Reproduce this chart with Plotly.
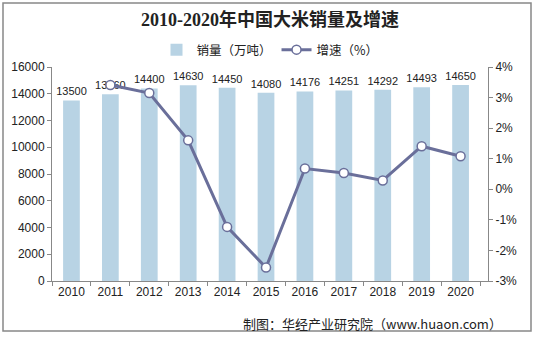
import plotly.graph_objects as go

years = ["2010", "2011", "2012", "2013", "2014", "2015", "2016", "2017", "2018", "2019", "2020"]
sales = [13500, 13960, 14400, 14630, 14450, 14080, 14176, 14251, 14292, 14493, 14650]
growth_years = ["2011", "2012", "2013", "2014", "2015", "2016", "2017", "2018", "2019", "2020"]
growth = [3.41, 3.15, 1.60, -1.23, -2.56, 0.68, 0.53, 0.29, 1.41, 1.08]
y2_ticks = [-3, -2, -1, 0, 1, 2, 3, 4]
y2_labels = ["-3%", "-2%", "-1%", "0%", "1%", "2%", "3%", "4%"]

W, H = 535, 337
L, R, T, B = 52, 47, 67, 56
pw, ph = W - L - R, H - T - B

def px(x):
    return (x - L) / pw

def py(y):
    return (H - B - y) / ph

tf = dict(family="Liberation Sans, Arial", size=12, color="#222")
lf = dict(family="Liberation Sans, Arial", size=11, color="#222")

fig = go.Figure()
fig.add_trace(go.Bar(
    x=years, y=sales, name="销量（万吨）",
    marker=dict(color="#B8D3E4", line=dict(width=0)),
    text=[str(v) for v in sales], textposition="outside", constraintext="none",
    textfont=lf, cliponaxis=False,
))
fig.add_trace(go.Scatter(
    x=growth_years, y=growth, name="增速（%）", yaxis="y2",
    mode="lines+markers",
    line=dict(color="#6A6F9A", width=3),
    marker=dict(size=9, color="white", line=dict(color="#6A6F9A", width=1.5)),
    cliponaxis=False,
))

fig.update_layout(
    width=W, height=H,
    margin=dict(l=L, r=R, t=T, b=B),
    paper_bgcolor="white", plot_bgcolor="white",
    bargap=0.57,
    showlegend=True,
    font=dict(family="Liberation Sans, Noto Sans CJK SC", size=11, color="#222"),
    title=dict(text="<b>2010-2020年中国大米销量及增速</b>", x=0.5, xref="paper", xanchor="center",
               y=1 - 20 / H, yanchor="middle", yref="container",
               font=dict(family="Liberation Serif, Noto Sans CJK SC", size=18, color="#222")),
    legend=dict(orientation="h", x=0.5, xanchor="center", y=py(50), yanchor="middle",
                font=dict(family="Noto Sans CJK SC", size=12.5, color="#222"),
                itemwidth=30, tracegroupgap=0, bgcolor="rgba(0,0,0,0)"),
    xaxis=dict(type="category", showline=True, linecolor="#888", linewidth=1,
               ticks="outside", ticklen=4, tickcolor="#888", tickson="boundaries",
               tickfont=tf, showgrid=False, zeroline=False),
    yaxis=dict(range=[0, 16000], dtick=2000, tickformat="d", showline=True, linecolor="#888",
               linewidth=1, ticks="outside", ticklen=4, tickcolor="#888", showgrid=False,
               zeroline=False, tickfont=tf),
    yaxis2=dict(range=[-3, 4], tickmode="array", tickvals=y2_ticks, ticktext=y2_labels,
                overlaying="y", side="right",
                showline=True, linecolor="#888", linewidth=1, ticks="outside", ticklen=4,
                tickcolor="#888", showgrid=False, zeroline=False, tickfont=tf),
    shapes=[dict(type="rect", xref="paper", yref="paper",
                 x0=px(3), x1=px(531), y0=py(331), y1=py(3),
                 line=dict(color="#888", width=1.5), fillcolor="rgba(0,0,0,0)", layer="below")],
    annotations=[dict(text="制图：华经产业研究院（www.huaon.com）", xref="paper", yref="paper",
                      x=px(504), y=py(323), xanchor="right", yanchor="middle", showarrow=False,
                      font=dict(family="Noto Sans CJK SC", size=13, color="#222"))],
)

fig.write_html("out.html")
